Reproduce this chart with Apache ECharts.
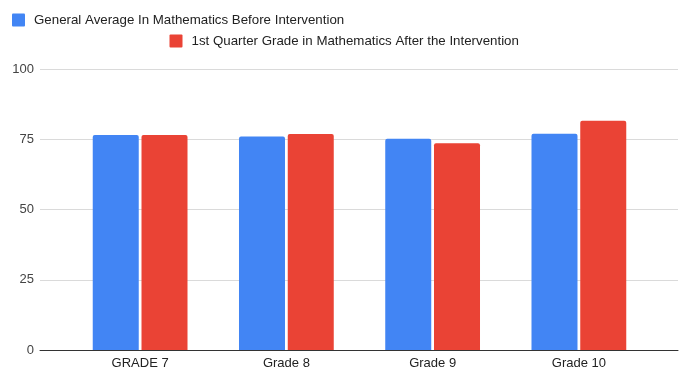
<!DOCTYPE html>
<html>
<head>
<meta charset="utf-8">
<script src="https://cdn.jsdelivr.net/npm/echarts@6/dist/echarts.min.js"></script>
<style>
  html, body { margin: 0; padding: 0; background: #fff; }
  #chart { width: 684px; height: 371px; }
</style>
</head>
<body>
<div id="chart"></div>
<script>
// Grade levels on the x axis
const categories = ['GRADE 7', 'Grade 8', 'Grade 9', 'Grade 10'];
// Mean mathematics grade per level
const beforeName = 'General Average In Mathematics Before Intervention';
const afterName = '1st Quarter Grade in Mathematics After the Intervention';
const beforeValues = [76.5, 76.0, 75.2, 77.0];
const afterValues = [76.5, 76.9, 73.6, 81.6];
// Value axis ticks
const yTicks = [0, 25, 50, 75, 100];

const FONT = 'Liberation Sans, Arial, sans-serif';
const chart = echarts.init(document.getElementById('chart'));

const legendText = { fontSize: 13.3, color: '#222', fontFamily: FONT, padding: [0, 0, 0, 4] };
// square swatch with slightly softened corners
const swatch = 'path://M1,0 L12,0 Q13,0 13,1 L13,12 Q13,13 12,13 L1,13 Q0,13 0,12 L0,1 Q0,0 1,0 Z';

chart.setOption({
  animation: false,
  textStyle: { fontFamily: FONT },
  legend: [
    {
      data: [beforeName],
      left: 12, top: 13.5, padding: 0,
      itemWidth: 13, itemHeight: 13,
      icon: swatch,
      textStyle: legendText
    },
    {
      data: [afterName],
      left: 169.5, top: 34.5, padding: 0,
      itemWidth: 13, itemHeight: 13,
      icon: swatch,
      textStyle: legendText
    }
  ],
  grid: [
    // full-width frame carrying the value axis and gridlines
    { left: 40, right: 6, top: 69, bottom: 21 },
    // narrower band in which the category bars sit
    { left: 67, right: 32, top: 69, bottom: 21 }
  ],
  xAxis: [
    {
      gridIndex: 0, type: 'value', min: 0, max: 1,
      axisLine: { show: true, lineStyle: { color: '#333', width: 1 } },
      axisTick: { show: false }, axisLabel: { show: false }, splitLine: { show: false }
    },
    {
      gridIndex: 1, type: 'category', data: categories,
      axisLine: { show: false }, axisTick: { show: false },
      axisLabel: { color: '#222', fontSize: 13, fontFamily: FONT, margin: 7 }
    }
  ],
  yAxis: [
    {
      gridIndex: 0, type: 'value',
      min: yTicks[0], max: yTicks[yTicks.length - 1], interval: 25,
      axisLine: { show: false }, axisTick: { show: false },
      axisLabel: { color: '#444', fontSize: 13, fontFamily: FONT, margin: 6 },
      splitLine: { lineStyle: { color: '#dadada', width: 1 } }
    },
    {
      gridIndex: 1, type: 'value',
      min: yTicks[0], max: yTicks[yTicks.length - 1],
      show: false, splitLine: { show: false }
    }
  ],
  series: [
    {
      name: beforeName, type: 'bar', xAxisIndex: 1, yAxisIndex: 1,
      data: beforeValues, barWidth: 46, barGap: '6%',
      itemStyle: { color: '#4285F4', borderRadius: [2, 2, 0, 0] }
    },
    {
      name: afterName, type: 'bar', xAxisIndex: 1, yAxisIndex: 1,
      data: afterValues, barWidth: 46, barGap: '6%',
      itemStyle: { color: '#EA4335', borderRadius: [2, 2, 0, 0] }
    }
  ]
});
</script>
</body>
</html>
